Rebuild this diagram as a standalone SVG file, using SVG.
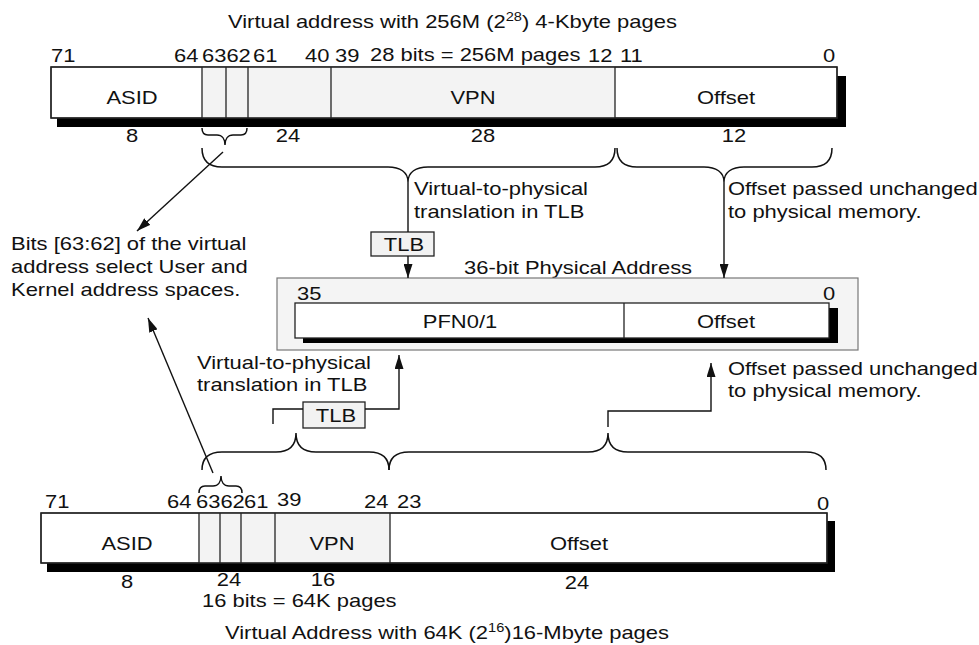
<svg xmlns="http://www.w3.org/2000/svg" width="979" height="645" viewBox="0 0 979 645">
  <style>
    text{font-family:"Liberation Sans",Arial,Helvetica,sans-serif;font-size:18px;fill:#111;transform-box:fill-box;transform:scaleX(1.22);transform-origin:0 50%}
    text.c{text-anchor:middle;transform-origin:50% 50%}
    .shadow{fill:#000}
    .field{stroke:#222;stroke-width:1.3}
    .white{fill:#fff}
    .grey{fill:#f3f3f3}
    .div{stroke:#222;stroke-width:1.3}
    .brace{fill:none;stroke:#111;stroke-width:1.5}
    .wire{fill:none;stroke:#111;stroke-width:1.4}
    .tlb{fill:#f2f2f2;stroke:#222;stroke-width:1.3}
  </style>
  <defs>
    <marker id="arrow" markerUnits="userSpaceOnUse" markerWidth="14" markerHeight="9" viewBox="0 0 14 9" refX="14" refY="4.5" orient="auto">
      <path d="M0,0 L14,4.5 L0,9 Z" fill="#111"/>
    </marker>
  </defs>

  <!-- 256M-page virtual address (top) -->
  <g id="vaddr-4k">
    <text x="228" y="28">Virtual address with 256M (2<tspan dy="-7" font-size="12">28</tspan><tspan dy="7">) 4-Kbyte pages</tspan></text>
    <rect class="shadow" x="57" y="76" width="789" height="51"/>
    <rect class="field white" x="51" y="67" width="786" height="51"/>
    <rect class="grey" x="202" y="67.7" width="413" height="49.6"/>
    <line class="div" x1="202" y1="67" x2="202" y2="118"/>
    <line class="div" x1="226" y1="67" x2="226" y2="118"/>
    <line class="div" x1="248" y1="67" x2="248" y2="118"/>
    <line class="div" x1="331" y1="67" x2="331" y2="118"/>
    <line class="div" x1="615" y1="67" x2="615" y2="118"/>
    <rect class="field" x="51" y="67" width="786" height="51" fill="none"/>
    <text x="51" y="62">71</text>
    <text x="174" y="62">64</text>
    <text x="202" y="62" font-size="17">6362</text>
    <text x="253" y="62">61</text>
    <text x="305" y="62">40</text>
    <text x="335" y="62">39</text>
    <text x="370" y="61">28 bits = 256M pages</text>
    <text x="588" y="62">12</text>
    <text x="620" y="62">11</text>
    <text x="823" y="62">0</text>
    <text class="c" x="132" y="104">ASID</text>
    <text class="c" x="473" y="104">VPN</text>
    <text class="c" x="726" y="104">Offset</text>
    <text class="c" x="132" y="142">8</text>
    <text class="c" x="288" y="142">24</text>
    <text class="c" x="483" y="142">28</text>
    <text class="c" x="734" y="142">12</text>
  </g>

  <!-- 36-bit physical address -->
  <g id="paddr">
    <text x="464" y="274">36-bit Physical Address</text>
    <rect x="277" y="278" width="581" height="72" fill="#f4f4f4" stroke="#777" stroke-width="1.2"/>
    <rect class="shadow" x="303" y="308" width="535" height="35"/>
    <rect class="field white" x="295" y="303" width="534" height="35"/>
    <line class="div" x1="624" y1="303" x2="624" y2="338"/>
    <text x="297" y="300">35</text>
    <text x="823" y="300">0</text>
    <text class="c" x="460" y="328">PFN0/1</text>
    <text class="c" x="726" y="328">Offset</text>
  </g>

  <!-- 64K-page virtual address (bottom) -->
  <g id="vaddr-16m">
    <rect class="shadow" x="47" y="521" width="788" height="51"/>
    <rect class="field white" x="41" y="513" width="786" height="50"/>
    <rect class="grey" x="199" y="513.7" width="191" height="48.6"/>
    <line class="div" x1="199" y1="513" x2="199" y2="563"/>
    <line class="div" x1="220" y1="513" x2="220" y2="563"/>
    <line class="div" x1="241" y1="513" x2="241" y2="563"/>
    <line class="div" x1="275" y1="513" x2="275" y2="563"/>
    <line class="div" x1="390" y1="513" x2="390" y2="563"/>
    <rect class="field" x="41" y="513" width="786" height="50" fill="none"/>
    <text x="45" y="508">71</text>
    <text x="167" y="508">64</text>
    <text x="196" y="508" font-size="16.5">6362</text>
    <text x="244" y="508">61</text>
    <text x="277" y="506">39</text>
    <text x="364" y="508">24</text>
    <text x="397" y="508">23</text>
    <text x="817" y="510">0</text>
    <text class="c" x="127" y="550">ASID</text>
    <text class="c" x="332" y="550">VPN</text>
    <text class="c" x="579" y="550">Offset</text>
    <text class="c" x="127" y="588">8</text>
    <text class="c" x="229" y="586">24</text>
    <text class="c" x="323" y="586">16</text>
    <text class="c" x="577" y="589">24</text>
    <text x="202" y="607">16 bits = 64K pages</text>
    <text x="225" y="639">Virtual Address with 64K (2<tspan dy="-7" font-size="12">16</tspan><tspan dy="7">)16-Mbyte pages</tspan></text>
  </g>

  <!-- translation lookaside buffers -->
  <g id="tlb-4k">
    <rect class="tlb" x="371" y="232" width="63" height="24"/>
    <text class="c" x="404" y="251">TLB</text>
  </g>
  <g id="tlb-16m">
    <rect class="tlb" x="303" y="402" width="62" height="26"/>
    <text class="c" x="336" y="422">TLB</text>
  </g>

  <!-- annotations -->
  <g id="note-bits">
    <text x="11" y="250">Bits [63:62] of the virtual</text>
    <text x="11" y="273">address select User and</text>
    <text x="11" y="296">Kernel address spaces.</text>
  </g>
  <g id="note-xlate-4k">
    <text x="414" y="195">Virtual-to-physical</text>
    <text x="414" y="218">translation in TLB</text>
  </g>
  <g id="note-offset-4k">
    <text x="728" y="195">Offset passed unchanged</text>
    <text x="728" y="218">to physical memory.</text>
  </g>
  <g id="note-xlate-16m">
    <text x="197" y="369">Virtual-to-physical</text>
    <text x="197" y="391">translation in TLB</text>
  </g>
  <g id="note-offset-16m">
    <text x="728" y="375">Offset passed unchanged</text>
    <text x="728" y="397">to physical memory.</text>
  </g>

  <!-- field braces -->
  <g id="braces">
    <path class="brace" d="M202,128 C202,133 204,135 208,135 L217,135 C222,135 225,139 225,145 C225,139 228,135 233,135 L241,135 C245,135 247,133 247,128"/>
    <path class="brace" d="M202,148 C202,160 208,167 222,167 L388,167 C400,167 408,172 408,182 C408,172 416,167 428,167 L595,167 C609,167 615,160 615,148"/>
    <path class="brace" d="M617,148 C617,160 623,167 637,167 L704,167 C716,167 724,172 724,182 C724,172 732,167 744,167 L812,167 C826,167 832,160 832,148"/>
    <path class="brace" d="M202,470 C202,458 208,452 222,452 L276,452 C288,452 296,447 296,433 C296,447 304,452 316,452 L369,452 C383,452 389,458 389,470"/>
    <path class="brace" d="M389,470 C389,458 395,452 409,452 L588,452 C600,452 608,447 608,433 C608,447 616,452 628,452 L806,452 C820,452 826,458 826,470"/>
    <path class="brace" d="M199,493 C199,488 201,486 205,486 L213,486 C218,486 221,482 221,476 C221,482 224,486 229,486 L236,486 C240,486 242,488 242,493"/>
  </g>

  <!-- connectors -->
  <g id="connectors">
    <line class="wire" x1="408" y1="182" x2="408" y2="232"/>
    <line class="wire" x1="408" y1="256" x2="408" y2="278" marker-end="url(#arrow)"/>
    <line class="wire" x1="724" y1="182" x2="724" y2="278" marker-end="url(#arrow)"/>
    <line class="wire" x1="223" y1="152" x2="137" y2="231" marker-end="url(#arrow)"/>
    <line class="wire" x1="213" y1="473" x2="148" y2="318" marker-end="url(#arrow)"/>
    <path class="wire" d="M273,424 V409 H303"/>
    <path class="wire" d="M365,409 H399 V355" marker-end="url(#arrow)"/>
    <path class="wire" d="M608,427 V411 H711 V363" marker-end="url(#arrow)"/>
  </g>
</svg>
